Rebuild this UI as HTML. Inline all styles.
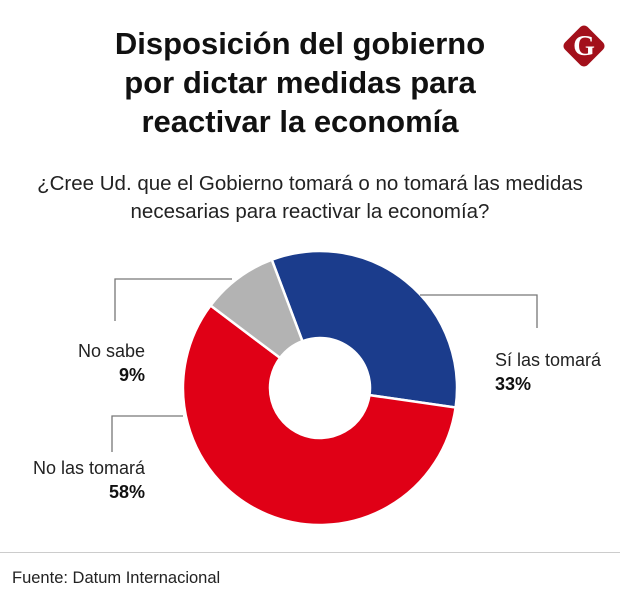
<!DOCTYPE html>
<html><head><meta charset="utf-8"><style>
body{margin:0;width:620px;height:616px;background:#fff;font-family:"Liberation Sans",sans-serif;position:relative;overflow:hidden}
.t{position:absolute;left:0;width:620px;text-align:center}
</style></head><body>
<div class="t" style="top:24px;font-size:31px;font-weight:bold;line-height:39px;color:#111;left:-10px">Disposición del gobierno<br>por dictar medidas para<br>reactivar la economía</div>
<div class="t" style="top:170px;font-size:20.5px;line-height:28px;color:#222">¿Cree Ud. que el Gobierno tomará o no tomará las medidas<br>necesarias para reactivar la economía?</div>
<svg style="position:absolute;left:560px;top:22px" width="48" height="48" viewBox="0 0 48 48">
<rect x="8" y="8" width="32" height="32" rx="5" transform="rotate(45 24 24)" fill="#a3101b"/>
<text x="24" y="33" text-anchor="middle" font-family="Liberation Serif" font-weight="bold" font-size="28" fill="#fff">G</text></svg>
<svg id="c" width="620" height="616" style="position:absolute;left:0;top:0"></svg>
<div style="position:absolute;left:0;top:552px;width:620px;height:1px;background:#ccc"></div>
<div style="position:absolute;left:12px;top:569px;font-size:16.5px;color:#222">Fuente: Datum Internacional</div>
<script>
const categories=["Sí las tomará","No las tomará","No sabe"];
const values=[33,58,9];
const colors=["#1b3c8c","#e00016","#b3b3b3"];
const ns="http://www.w3.org/2000/svg",svg=document.getElementById("c");
const cx=320,cy=388,R=137,r=50,start=-20.6;
function pt(a,rad){const t=(a-90)*Math.PI/180;return[cx+rad*Math.cos(t),cy+rad*Math.sin(t)];}
const total=values.reduce((a,b)=>a+b,0);let a=start;
values.forEach((v,i)=>{const sw=v/total*360,b=a+sw,l=sw>180?1:0;
const p1=pt(a,R),p2=pt(b,R),p3=pt(b,r),p4=pt(a,r);
const p=document.createElementNS(ns,"path");
p.setAttribute("d",`M${p1}A${R},${R} 0 ${l} 1 ${p2}L${p3}A${r},${r} 0 ${l} 0 ${p4}Z`);
p.setAttribute("fill",colors[i]);p.setAttribute("stroke","#fff");p.setAttribute("stroke-width","2.5");


svg.appendChild(p);a=b;});
const lines=[[420,295,537,295,537,328],[183,416,112,416,112,452],[232,279,115,279,115,321]];
lines.forEach((L,i)=>{const pl=document.createElementNS(ns,"polyline");
pl.setAttribute("points",L.join(","));pl.setAttribute("fill","none");pl.setAttribute("stroke","#777");pl.setAttribute("stroke-width","1.3");


svg.appendChild(pl);});
const lab=[[495,"start",366],[145,"end",474],[145,"end",357]];
values.forEach((v,i)=>{const [x,an,y]=lab[i];
const t1=document.createElementNS(ns,"text");t1.setAttribute("x",x);t1.setAttribute("y",y);t1.setAttribute("text-anchor",an);t1.setAttribute("font-size","18");t1.setAttribute("fill","#222");t1.textContent=categories[i];


svg.appendChild(t1);
const t2=document.createElementNS(ns,"text");t2.setAttribute("x",x);t2.setAttribute("y",y+24);t2.setAttribute("text-anchor",an);t2.setAttribute("font-size","18");t2.setAttribute("font-weight","bold");t2.setAttribute("fill","#111");t2.textContent=v+"%";


svg.appendChild(t2);});
</script>
</body></html>
